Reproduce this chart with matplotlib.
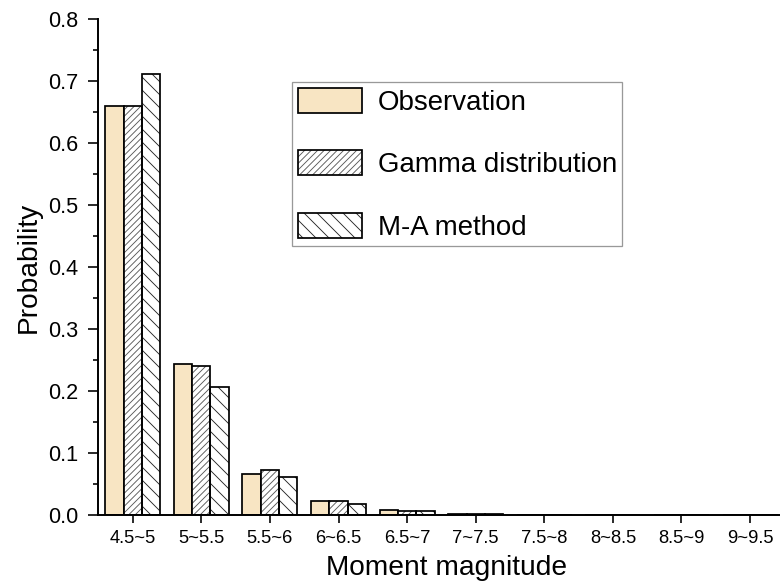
import matplotlib
matplotlib.use("Agg")
import matplotlib.pyplot as plt
import numpy as np
from matplotlib.patches import Patch
from matplotlib.legend_handler import HandlerTuple
from matplotlib.ticker import MultipleLocator

categories = ["4.5~5", "5~5.5", "5.5~6", "6~6.5", "6.5~7", "7~7.5",
              "7.5~8", "8~8.5", "8.5~9", "9~9.5"]
observation = [0.660, 0.2445, 0.066, 0.023, 0.0076, 0.0020, 0.0004, 0.0002, 0.0001, 0.00005]
gamma_dist = [0.660, 0.240, 0.073, 0.022, 0.0065, 0.0018, 0.0004, 0.00015, 0.00004, 0.00001]
ma_method = [0.711, 0.207, 0.0615, 0.018, 0.0060, 0.0015, 0.0003, 0.0001, 0.00003, 0.00001]
series_names = ["Observation", "Gamma distribution", "M-A method"]
yticks = [0.0, 0.1, 0.2, 0.3, 0.4, 0.5, 0.6, 0.7, 0.8]

plt.rcParams['font.family'] = ['Liberation Sans', 'DejaVu Sans']
plt.rcParams['hatch.linewidth'] = 0.8

DPI = 78
fig = plt.figure(figsize=(780 / DPI, 587 / DPI), dpi=DPI)
ax = fig.add_axes([98 / 780, 1 - 515 / 587, 1 - 98 / 780, (515 - 19.3) / 587])

x = np.arange(len(categories))
w = 0.267
obs_color = '#F8E5C3'
edge_lw = 1.6

ax.bar(x - w, observation, w, color=obs_color, edgecolor='black', linewidth=edge_lw, zorder=2)
# gamma: gray hatch + black outline
ax.bar(x, gamma_dist, w, color='white', edgecolor='#555555', linewidth=0, hatch='////', zorder=2)
ax.bar(x, gamma_dist, w, fill=False, edgecolor='black', linewidth=edge_lw, zorder=3)
# M-A: dark hatch + black outline
ax.bar(x + w, ma_method, w, color='white', edgecolor='#222222', linewidth=0, hatch='\\\\', zorder=2)
ax.bar(x + w, ma_method, w, fill=False, edgecolor='black', linewidth=edge_lw, zorder=3)

ax.set_xlim(-0.506, 9.436)
ax.set_ylim(0, 0.8)
ax.set_xticks(x)
ax.set_xticklabels(categories, fontsize=17)
ax.set_yticks(yticks)
ax.set_yticklabels([f"{v:.1f}" for v in yticks], fontsize=20)
ax.yaxis.set_minor_locator(MultipleLocator(0.05))

for s in ['top', 'right']:
    ax.spines[s].set_visible(False)
for s in ['left', 'bottom']:
    ax.spines[s].set_linewidth(1.8)

ax.tick_params(axis='y', which='major', direction='out', length=9.2, width=1.5, pad=9)
ax.tick_params(axis='y', which='minor', direction='out', length=4.6, width=1.5)
ax.tick_params(axis='x', which='major', direction='out', length=7.4, width=1.5, pad=6)

ax.set_xlabel("Moment magnitude", fontsize=26, labelpad=8)
ax.xaxis.label.set_x(0.511)
ax.set_ylabel("Probability", fontsize=26, labelpad=6)

h_obs = Patch(facecolor=obs_color, edgecolor='black', linewidth=edge_lw)
h_gam = (Patch(facecolor='white', edgecolor='#555555', linewidth=0, hatch='////'),
         Patch(fill=False, edgecolor='black', linewidth=edge_lw))
h_ma = (Patch(facecolor='white', edgecolor='#222222', linewidth=0, hatch='\\\\'),
        Patch(fill=False, edgecolor='black', linewidth=edge_lw))
leg = fig.legend([h_obs, h_gam, h_ma], series_names,
                 handler_map={tuple: HandlerTuple(ndivide=1, pad=0)},
                 loc='upper left', bbox_to_anchor=(292 / 780, 1 - 82 / 587),
                 fontsize=25.5, handlelength=2.32, handleheight=1.02,
                 handletextpad=0.58, labelspacing=1.25, borderpad=0.2,
                 borderaxespad=0, fancybox=False, frameon=True)
leg.get_frame().set_edgecolor('#808080')
leg.get_frame().set_linewidth(1.2)

fig.savefig("out.png", dpi=DPI)
